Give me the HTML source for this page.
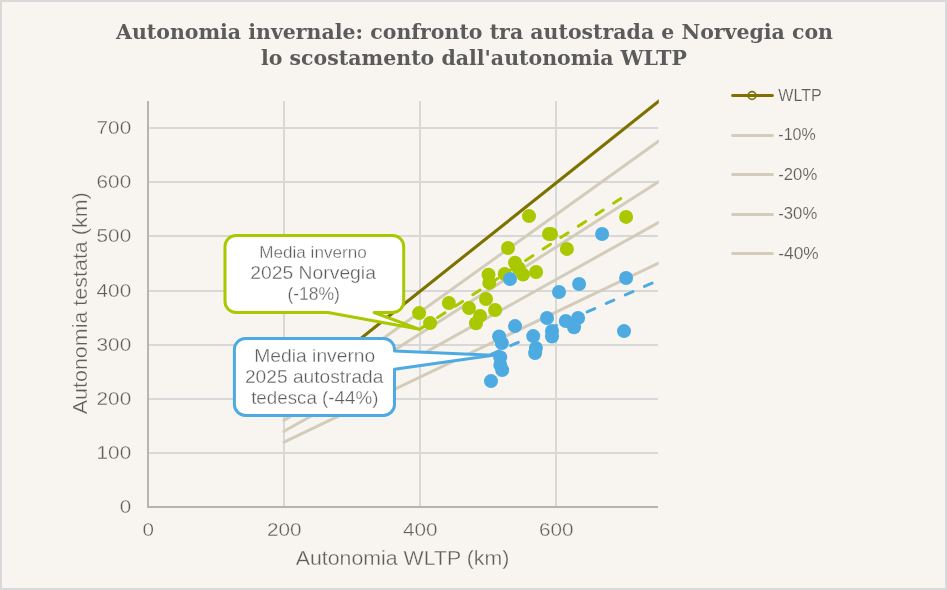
<!DOCTYPE html>
<html lang="it"><head><meta charset="utf-8"><title>Autonomia invernale</title>
<style>
html,body{margin:0;padding:0;background:#f8f5f0;}
body{width:947px;height:590px;overflow:hidden;position:relative;}
#frame{position:absolute;left:0;top:0;width:943px;height:586px;border:2px solid #d9d9d9;background:#f8f5f0;}
svg{position:absolute;left:0;top:0;will-change:transform;}
text{font-family:"Liberation Sans",sans-serif;fill:#5e5e5e;stroke:#f8f5f0;stroke-width:0.3px;}
.co,.co1{stroke:#ffffff;}
.title{font-family:"DejaVu Serif","Liberation Serif",serif;font-weight:bold;fill:#5b5b5b;font-size:21px;stroke:none;}
.tick{font-size:18.1px;}
.axt{font-size:20.5px;}
.leg{font-size:16px;stroke-width:0.15px;}
.co{font-size:17.8px;}
.co1{font-size:16px;}
</style></head><body><div id="frame"></div>
<svg width="947" height="590" viewBox="0 0 947 590">
<text class="title" x="474.5" y="38.7" text-anchor="middle" textLength="717" lengthAdjust="spacingAndGlyphs">Autonomia invernale: confronto tra autostrada e Norvegia con</text>
<text class="title" x="474" y="65.3" text-anchor="middle" textLength="426" lengthAdjust="spacingAndGlyphs">lo scostamento dall'autonomia WLTP</text>
<line x1="149" x2="658" y1="453.00" y2="453.00" stroke="#d8d8d8" stroke-width="2"/>
<line x1="149" x2="658" y1="399.00" y2="399.00" stroke="#d8d8d8" stroke-width="2"/>
<line x1="149" x2="658" y1="345.00" y2="345.00" stroke="#d8d8d8" stroke-width="2"/>
<line x1="149" x2="658" y1="291.00" y2="291.00" stroke="#d8d8d8" stroke-width="2"/>
<line x1="149" x2="658" y1="236.00" y2="236.00" stroke="#d8d8d8" stroke-width="2"/>
<line x1="149" x2="658" y1="182.00" y2="182.00" stroke="#d8d8d8" stroke-width="2"/>
<line x1="149" x2="658" y1="128.00" y2="128.00" stroke="#d8d8d8" stroke-width="2"/>
<line x1="284.00" x2="284.00" y1="101" y2="506" stroke="#d8d8d8" stroke-width="2"/>
<line x1="420.00" x2="420.00" y1="101" y2="506" stroke="#d8d8d8" stroke-width="2"/>
<line x1="556.00" x2="556.00" y1="101" y2="506" stroke="#d8d8d8" stroke-width="2"/>
<line x1="148" x2="148" y1="101" y2="508" stroke="#b4b4b4" stroke-width="2"/>
<line x1="147" x2="658" y1="507" y2="507" stroke="#b4b4b4" stroke-width="2"/>
<clipPath id="pc"><rect x="280" y="90" width="378.8" height="420"/></clipPath><g clip-path="url(#pc)">
<line x1="284.00" y1="409.55" x2="664.80" y2="136.68" stroke="#d4ccba" stroke-width="3" stroke-linecap="round"/>
<line x1="284.00" y1="420.38" x2="664.80" y2="177.83" stroke="#d4ccba" stroke-width="3" stroke-linecap="round"/>
<line x1="284.00" y1="431.20" x2="664.80" y2="218.98" stroke="#d4ccba" stroke-width="3" stroke-linecap="round"/>
<line x1="284.00" y1="442.03" x2="664.80" y2="260.12" stroke="#d4ccba" stroke-width="3" stroke-linecap="round"/>
<line x1="285.10" y1="398.72" x2="665.90" y2="95.54" stroke="#7d7100" stroke-width="3.1" stroke-linecap="round"/>
</g>
<circle cx="419.1" cy="313.1" r="7" fill="#a9c800"/>
<circle cx="430.1" cy="323.1" r="7" fill="#a9c800"/>
<circle cx="448.9" cy="303.0" r="7" fill="#a9c800"/>
<circle cx="469.0" cy="308.0" r="7" fill="#a9c800"/>
<circle cx="476.0" cy="323.2" r="7" fill="#a9c800"/>
<circle cx="480.1" cy="315.9" r="7" fill="#a9c800"/>
<circle cx="486.0" cy="299.0" r="7" fill="#a9c800"/>
<circle cx="495.1" cy="310.0" r="7" fill="#a9c800"/>
<circle cx="488.5" cy="274.8" r="7" fill="#a9c800"/>
<circle cx="489.3" cy="282.9" r="7" fill="#a9c800"/>
<circle cx="504.7" cy="274.0" r="7" fill="#a9c800"/>
<circle cx="508.0" cy="248.0" r="7" fill="#a9c800"/>
<circle cx="515.0" cy="262.7" r="7" fill="#a9c800"/>
<circle cx="518.5" cy="268.0" r="7" fill="#a9c800"/>
<circle cx="523.0" cy="274.6" r="7" fill="#a9c800"/>
<circle cx="536.1" cy="272.0" r="7" fill="#a9c800"/>
<circle cx="529.0" cy="216.1" r="7" fill="#a9c800"/>
<circle cx="549.0" cy="234.0" r="7" fill="#a9c800"/>
<circle cx="551.0" cy="234.0" r="7" fill="#a9c800"/>
<circle cx="566.9" cy="248.9" r="7" fill="#a9c800"/>
<circle cx="626.1" cy="216.9" r="7" fill="#a9c800"/>
<line x1="420.05" y1="329.0" x2="620.75" y2="198.6" stroke="#a9c800" stroke-width="3" stroke-linecap="round" stroke-dasharray="8.7 12.28"/>
<circle cx="510.0" cy="279.0" r="7" fill="#4eabe1"/>
<circle cx="515.0" cy="326.1" r="7" fill="#4eabe1"/>
<circle cx="499.1" cy="336.5" r="7" fill="#4eabe1"/>
<circle cx="501.9" cy="343.0" r="7" fill="#4eabe1"/>
<circle cx="500.2" cy="357.2" r="7" fill="#4eabe1"/>
<circle cx="500.3" cy="365.0" r="7" fill="#4eabe1"/>
<circle cx="502.2" cy="370.1" r="7" fill="#4eabe1"/>
<circle cx="491.0" cy="381.1" r="7" fill="#4eabe1"/>
<circle cx="533.2" cy="336.1" r="7" fill="#4eabe1"/>
<circle cx="535.9" cy="348.0" r="7" fill="#4eabe1"/>
<circle cx="535.1" cy="353.1" r="7" fill="#4eabe1"/>
<circle cx="547.0" cy="318.0" r="7" fill="#4eabe1"/>
<circle cx="552.0" cy="331.0" r="7" fill="#4eabe1"/>
<circle cx="552.0" cy="336.5" r="7" fill="#4eabe1"/>
<circle cx="559.0" cy="292.0" r="7" fill="#4eabe1"/>
<circle cx="565.8" cy="321.0" r="7" fill="#4eabe1"/>
<circle cx="578.1" cy="318.0" r="7" fill="#4eabe1"/>
<circle cx="574.0" cy="327.2" r="7" fill="#4eabe1"/>
<circle cx="579.1" cy="284.0" r="7" fill="#4eabe1"/>
<circle cx="602.1" cy="234.0" r="7" fill="#4eabe1"/>
<circle cx="626.1" cy="278.0" r="7" fill="#4eabe1"/>
<circle cx="624.0" cy="331.1" r="7" fill="#4eabe1"/>
<line x1="491.6" y1="354.2" x2="652.3" y2="283.0" stroke="#4eabe1" stroke-width="3" stroke-linecap="round" stroke-dasharray="8.3 12.6"/>
<path d="M236.0 235.5 H392.7 A11 11 0 0 1 403.7 246.5 V301.5 A11 11 0 0 1 392.7 312.5 H374 L419.7 329.3 L328 312.5 H236.0 A11 11 0 0 1 225.0 301.5 V246.5 A11 11 0 0 1 236.0 235.5 Z" fill="#ffffff" stroke="#a9c800" stroke-width="3" stroke-linejoin="round"/>
<path d="M245.4 338.5 H383.5 A11 11 0 0 1 394.5 349.5 V351 L493 355.3 L394.5 369.3 V404.4 A11 11 0 0 1 383.5 415.4 H245.4 A11 11 0 0 1 234.4 404.4 V349.5 A11 11 0 0 1 245.4 338.5 Z" fill="#ffffff" stroke="#4eabe1" stroke-width="3" stroke-linejoin="round"/>
<text class="co1" x="313" y="257.5" text-anchor="middle" textLength="107.5" lengthAdjust="spacingAndGlyphs">Media inverno</text>
<text class="co" x="313.1" y="278.9" text-anchor="middle" textLength="125.6" lengthAdjust="spacingAndGlyphs">2025 Norvegia</text>
<text class="co" x="313.7" y="299.7" text-anchor="middle" textLength="52.5" lengthAdjust="spacingAndGlyphs">(-18%)</text>
<text class="co" x="314.8" y="362" text-anchor="middle" textLength="121" lengthAdjust="spacingAndGlyphs">Media inverno</text>
<text class="co" x="314.2" y="383" text-anchor="middle" textLength="138.5" lengthAdjust="spacingAndGlyphs">2025 autostrada</text>
<text class="co" x="314.8" y="404.2" text-anchor="middle" textLength="127.3" lengthAdjust="spacingAndGlyphs">tedesca (-44%)</text>
<text class="tick" x="131.2" y="513.4" text-anchor="end" textLength="11.5" lengthAdjust="spacingAndGlyphs">0</text>
<text class="tick" x="131.2" y="459.4" text-anchor="end" textLength="34.6" lengthAdjust="spacingAndGlyphs">100</text>
<text class="tick" x="131.2" y="405.4" text-anchor="end" textLength="34.6" lengthAdjust="spacingAndGlyphs">200</text>
<text class="tick" x="131.2" y="351.4" text-anchor="end" textLength="34.6" lengthAdjust="spacingAndGlyphs">300</text>
<text class="tick" x="131.2" y="297.4" text-anchor="end" textLength="34.6" lengthAdjust="spacingAndGlyphs">400</text>
<text class="tick" x="131.2" y="242.4" text-anchor="end" textLength="34.6" lengthAdjust="spacingAndGlyphs">500</text>
<text class="tick" x="131.2" y="188.4" text-anchor="end" textLength="34.6" lengthAdjust="spacingAndGlyphs">600</text>
<text class="tick" x="131.2" y="134.4" text-anchor="end" textLength="34.6" lengthAdjust="spacingAndGlyphs">700</text>
<text class="tick" x="148.3" y="536" text-anchor="middle" textLength="11.5" lengthAdjust="spacingAndGlyphs">0</text>
<text class="tick" x="284.3" y="536" text-anchor="middle" textLength="34.6" lengthAdjust="spacingAndGlyphs">200</text>
<text class="tick" x="420.3" y="536" text-anchor="middle" textLength="34.6" lengthAdjust="spacingAndGlyphs">400</text>
<text class="tick" x="556.3" y="536" text-anchor="middle" textLength="34.6" lengthAdjust="spacingAndGlyphs">600</text>
<text class="axt" x="402.5" y="564.9" text-anchor="middle" textLength="213.5" lengthAdjust="spacingAndGlyphs">Autonomia WLTP (km)</text>
<text class="axt" transform="translate(87.4 303.3) rotate(-90)" text-anchor="middle" textLength="222" lengthAdjust="spacingAndGlyphs">Autonomia testata (km)</text>
<line x1="732.6" x2="772.4" y1="95.5" y2="95.5" stroke="#7d7100" stroke-width="3" stroke-linecap="round"/>
<circle cx="752" cy="95.5" r="3.9" fill="none" stroke="#7d7100" stroke-width="1.6"/>
<text class="leg" x="778.3" y="100.8" textLength="43.3" lengthAdjust="spacingAndGlyphs">WLTP</text>
<line x1="732.6" x2="772.4" y1="135.4" y2="135.4" stroke="#d4ccba" stroke-width="3" stroke-linecap="round"/>
<text class="leg" x="778.3" y="139.8" textLength="37.4" lengthAdjust="spacingAndGlyphs">-10%</text>
<line x1="732.6" x2="772.4" y1="174.5" y2="174.5" stroke="#d4ccba" stroke-width="3" stroke-linecap="round"/>
<text class="leg" x="778.3" y="179.9" textLength="38.9" lengthAdjust="spacingAndGlyphs">-20%</text>
<line x1="732.6" x2="772.4" y1="214.4" y2="214.4" stroke="#d4ccba" stroke-width="3" stroke-linecap="round"/>
<text class="leg" x="778.3" y="219.0" textLength="38.9" lengthAdjust="spacingAndGlyphs">-30%</text>
<line x1="732.6" x2="772.4" y1="253.5" y2="253.5" stroke="#d4ccba" stroke-width="3" stroke-linecap="round"/>
<text class="leg" x="778.3" y="259.0" textLength="40.3" lengthAdjust="spacingAndGlyphs">-40%</text>
</svg></body></html>
